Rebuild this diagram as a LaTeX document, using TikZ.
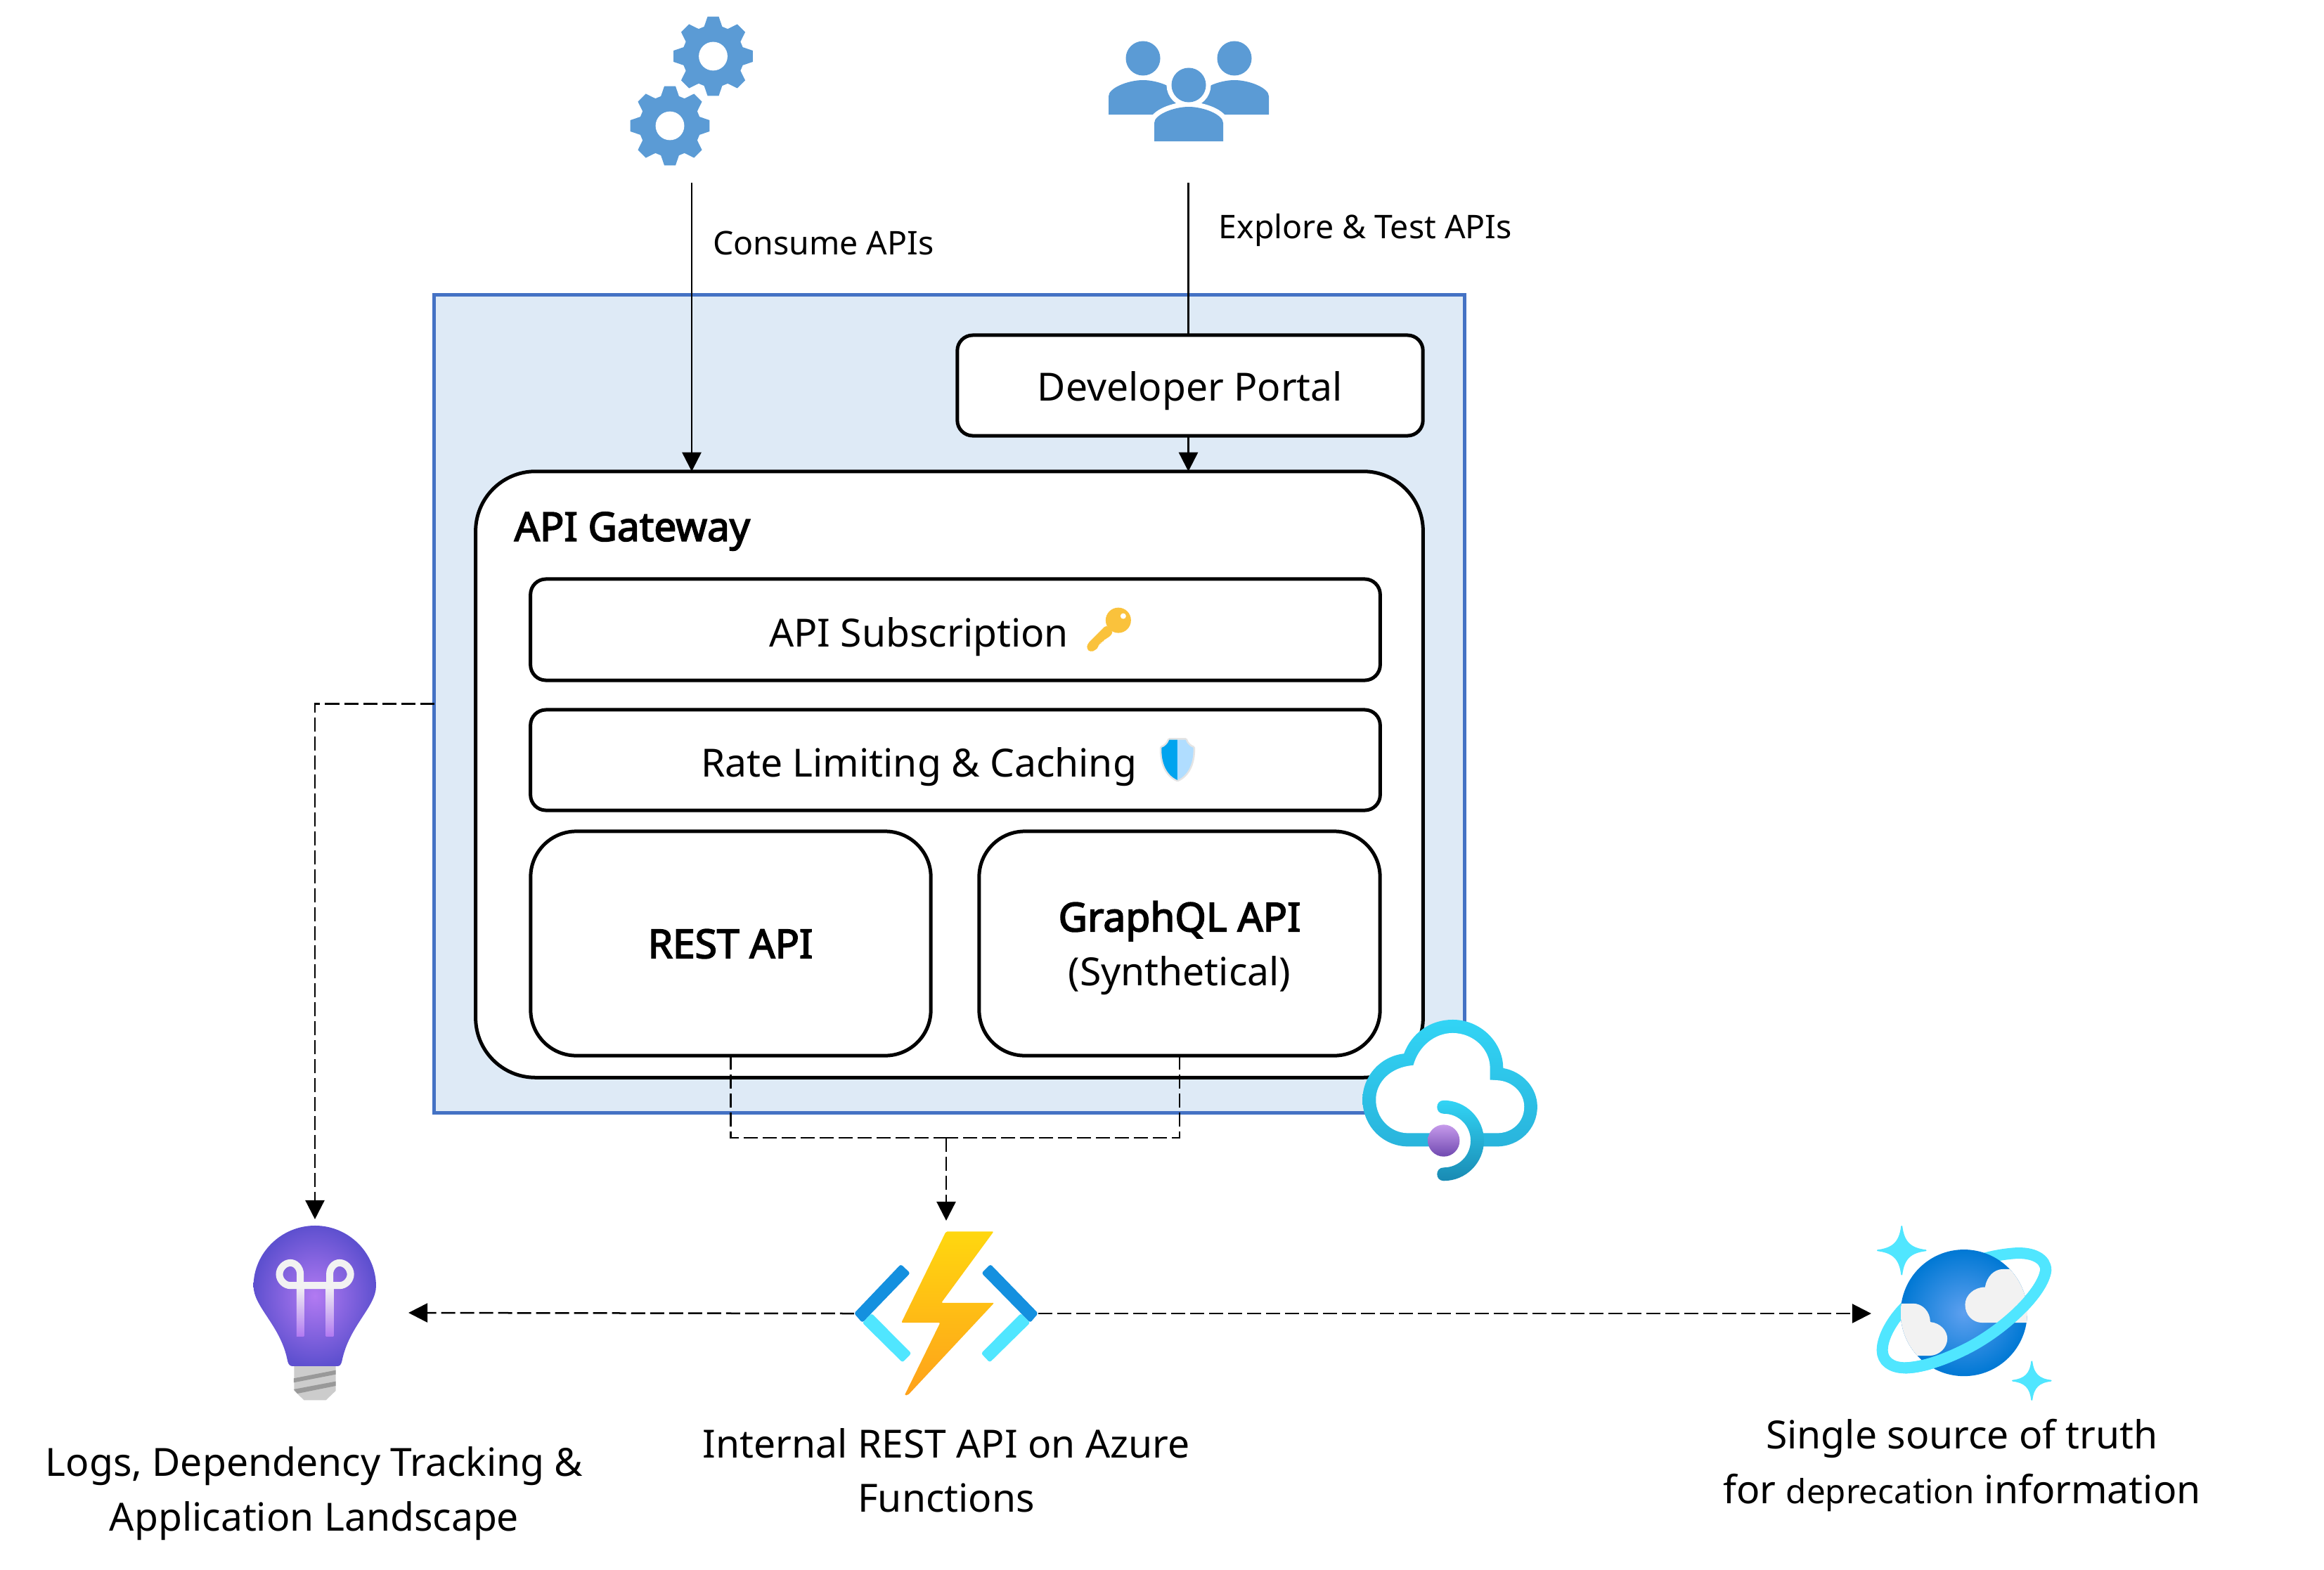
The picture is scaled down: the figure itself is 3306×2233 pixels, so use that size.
\documentclass[tikz,border=0pt]{standalone}
\usepackage{fontspec}
\setmainfont{Noto Sans}[BoldFont={Noto Sans},BoldFeatures={FakeBold=3,Scale=1.03}]
\usetikzlibrary{arrows.meta}
\definecolor{groupfill}{HTML}{DEEAF6}
\definecolor{groupline}{HTML}{4472C4}
\definecolor{iconblue}{HTML}{5B9BD5}
\definecolor{keygold}{HTML}{FAC23C}
\definecolor{cyanlight}{HTML}{50E6FF}
\definecolor{cyantop}{HTML}{32D4F5}
\definecolor{cyanmid}{HTML}{29B4DC}
\definecolor{cyanlow}{HTML}{198AB3}
\definecolor{chevrondark}{HTML}{1490DF}
\definecolor{shielddark}{HTML}{00A4EF}
\definecolor{shieldlight}{HTML}{B0DDFF}
\definecolor{shieldedge}{HTML}{E4E4E4}
\definecolor{dottop}{HTML}{C69AEB}
\definecolor{dotlow}{HTML}{7049B0}
\definecolor{bulbin}{HTML}{B27AF2}
\definecolor{bulbout}{HTML}{5E50CF}
\definecolor{filament}{HTML}{F2F2F2}
\definecolor{bolttop}{HTML}{FFD70F}
\definecolor{boltmid}{HTML}{FEB01C}
\definecolor{boltlow}{HTML}{FEA11B}
\definecolor{globein}{HTML}{5EA0EF}
\definecolor{globeout}{HTML}{0078D4}
\tikzset{
  >={Triangle[length=0.27cm,width=0.27cm]},
  zoomed/.style={x=0.003333cm,y=-0.003333cm},
  groupbox/.style={draw=groupline,fill=groupfill,line width=0.05cm,inner sep=0,outer sep=0},
  whitebox/.style={draw=black,fill=white,line width=0.05cm,rounded corners=#1,inner sep=0,outer sep=0},
  iconbox/.style={inner sep=0,outer sep=0},
  txt/.style={font=\fontsize{15.7}{22}\selectfont,align=center,inner sep=0},
  smalltxt/.style={font=\fontsize{13.2}{16}\selectfont,inner sep=0},
  wire/.style={line width=0.025cm},
  flow/.style={line width=0.025cm,dash pattern=on 0.2cm off 0.07cm},
}
\newcommand{\gearicon}[2]{
  \begin{scope}[shift={(#1,#2)}]
    \fill[iconblue] (-17:44) \foreach \a in {0,45,...,315} { -- (\a-17:44) -- (\a-8:57) -- (\a+8:57) -- (\a+17:44) } -- cycle;
    \fill[white] (0,0) circle [radius=0.204cm];
  \end{scope}
}
\newcommand{\personicon}[3]{
  \begin{scope}[shift={(#1,#2)}]
    \draw[white,line width=#3] (0,-31) circle [radius=0.245cm];
    \draw[white,line width=#3] (-49,49) -- (-49,23) .. controls (-49,11) and (-21,0) .. (0,0) .. controls (21,0) and (49,11) .. (49,23) -- (49,49) -- cycle;
    \fill[iconblue] (0,-31) circle [radius=0.245cm];
    \fill[iconblue] (-49,49) -- (-49,23) .. controls (-49,11) and (-21,0) .. (0,0) .. controls (21,0) and (49,11) .. (49,23) -- (49,49) -- cycle;
  \end{scope}
}
\newcommand{\sparkle}[3]{
  \begin{scope}[shift={(#1,#2)},scale=#3]
    \filldraw[fill=cyanlight,draw=cyanlight,line width=0.02cm,line join=round] (0,-100) .. controls (8,-35) and (35,-8) .. (100,0) .. controls (35,8) and (8,35) .. (0,100) .. controls (-8,35) and (-35,8) .. (-100,0) .. controls (-35,-8) and (-8,-35) .. (0,-100) -- cycle;
  \end{scope}
}
\begin{document}
\begin{tikzpicture}[x=0.01cm,y=-0.01cm]
\useasboundingbox (0,0) rectangle (3306,2233);

\node (apim) at (1350.5,1001.5) [groupbox, minimum width=14.65cm, minimum height=11.63cm] {};
\node (portal) at (1693,548.5) [whitebox=0.22cm, minimum width=6.62cm, minimum height=1.43cm] {};
\node (gateway) at (1350.5,1102) [whitebox=0.85cm, minimum width=13.47cm, minimum height=8.62cm] {};
\node (subscription) at (1359,896) [whitebox=0.22cm, minimum width=12.08cm, minimum height=1.44cm] {};
\node (ratelimit) at (1359,1081.5) [whitebox=0.22cm, minimum width=12.08cm, minimum height=1.43cm] {};
\node (rest) at (1039.5,1342.5) [whitebox=0.65cm, minimum width=5.69cm, minimum height=3.19cm] {};
\node (graphql) at (1678,1342.5) [whitebox=0.65cm, minimum width=5.70cm, minimum height=3.19cm] {};

\node (portaltext) at (1693,556) [txt] {Developer Portal};
\node (gatewaytext) at (731,756) [txt, anchor=west] {\bfseries API Gateway};
\node (subtext) at (1307,906) [txt] {API Subscription};
\node (ratetext) at (1307,1091) [txt] {Rate Limiting \& Caching};
\node (resttext) at (1039,1343) [txt] {\bfseries REST API};
\node (graphqltext) at (1678,1349) [txt] {\textbf{GraphQL API}\\(Synthetical)};

\node (insights) at (448,1868) [iconbox, minimum width=2.66cm, minimum height=2.66cm] {};
\node (funcs) at (1346,1869) [iconbox, minimum width=2.62cm, minimum height=2.64cm] {};
\node (cosmos) at (2794,1869) [iconbox, minimum width=2.64cm, minimum height=2.64cm] {};

\node (insightstext) at (447,2125) [txt] {Logs, Dependency Tracking \&\\Application Landscape};
\node (funcstext) at (1346,2092) [txt] {Internal REST API on Azure\\Functions};
\node (cosmostext) at (2791,2085) [txt] {Single source of truth\\for {\fontsize{13.5}{22}\selectfont deprecation} information};

\coordinate (consumestart) at (984,260);
\coordinate (explorestart) at (1690.5,260);
\coordinate (merge) at (1346,1619);

\draw [wire,->] (consumestart) -- (consumestart |- gateway.north) node[pos=0.21, xshift=0.29cm, right, smalltxt] {Consume APIs};
\draw [wire] (explorestart) -- (explorestart |- portal.north) node[pos=0.31, xshift=0.42cm, right, smalltxt] {Explore \& Test APIs};
\draw [wire,->] (explorestart |- portal.south) -- (explorestart |- gateway.north);
\draw [flow,->] (apim.west) -| (insights.north);
\draw [flow] (rest.south) |- (merge);
\draw [flow] (graphql.south) |- (merge);
\draw [flow,->] (merge) -- (funcs.north);
\draw [flow,->] (funcs.west) -- (insights.east);
\draw [flow,->] (funcs.east) -- (cosmos.west);

\gearicon{1014.5}{80}
\gearicon{953}{179}
\personicon{1626}{114}{0pt}
\personicon{1756}{114}{0pt}
\personicon{1691}{152}{0.14cm}

\begin{scope}[shift={(1500,850)},zoomed]
\fill[keygold] (273,98) circle [radius=0.18cm];
\fill[keygold,rounded corners=0.04cm] (222,118) -- (140,200) -- (138,222) -- (155,234) -- (175,226) -- (190,210) -- (190,195) -- (205,195) -- (212,178) -- (228,175) -- (252,150) -- cycle;
\fill[white] (294,80) circle [radius=0.04cm];
\end{scope}

\begin{scope}[shift={(1640,1040)},zoomed]
\draw[shieldedge,line width=0.05cm,line join=round] (70,38) .. controls (65,55) and (50,68) .. (37,72) .. controls (35,140) and (60,190) .. (105,210) .. controls (150,190) and (175,140) .. (173,72) .. controls (160,68) and (145,55) .. (140,38) -- cycle;
\fill[shielddark] (105,38) -- (70,38) .. controls (65,55) and (50,68) .. (37,72) .. controls (35,140) and (60,190) .. (105,210) -- cycle;
\fill[shieldlight] (105,38) -- (140,38) .. controls (145,55) and (160,68) .. (173,72) .. controls (175,140) and (150,190) .. (105,210) -- cycle;
\end{scope}

\begin{scope}[shift={(1900,1420)},zoomed]
\shade[top color=cyantop,middle color=cyantop,bottom color=cyanmid] (292,238) .. controls (325,150) and (405,93) .. (500,93) .. controls (620,93) and (716,190) .. (716,300) .. controls (800,315) and (862,385) .. (862,465) .. controls (862,560) and (785,635) .. (690,635) -- (310,635) .. controls (200,635) and (115,545) .. (115,435) .. controls (115,335) and (190,250) .. (292,238) -- cycle;
\fill[white] (332,288) .. controls (355,205) and (425,150) .. (500,150) .. controls (590,150) and (660,220) .. (660,300) -- (660,350) -- (690,352) .. controls (755,355) and (806,405) .. (806,465) .. controls (806,530) and (755,578) .. (690,578) -- (310,578) .. controls (235,578) and (172,515) .. (172,435) .. controls (172,360) and (235,295) .. (332,288) -- cycle;
\fill[white] (462,570) rectangle (580,640);
\shade[top color=cyantop,bottom color=cyanlow] (462,438) .. controls (557,438) and (634,515) .. (634,610) .. controls (634,705) and (557,782) .. (462,782) .. controls (424,782) and (424,725) .. (462,725) .. controls (526,725) and (577,674) .. (577,610) .. controls (577,546) and (526,495) .. (462,495) .. controls (424,495) and (424,438) .. (462,438) -- cycle;
\shade[top color=dottop,bottom color=dotlow] (462,610) circle [radius=0.2267cm];
\end{scope}

\begin{scope}[shift={(300,1720)},zoomed]
\fill[black!20] (356,665) -- (534,665) -- (534,778) -- (492,818) -- (398,818) -- (356,778) -- cycle;
\fill[black!40] (354,725) -- (534,690) -- (534,708) -- (354,743) -- cycle;
\fill[black!40] (354,772) -- (534,738) -- (534,757) -- (370,790) -- cycle;
\shade[inner color=bulbin,outer color=bulbout] (445,72) .. controls (300,72) and (182,190) .. (182,330) .. controls (182,420) and (300,500) .. (328,652) .. controls (332,668) and (340,673) .. (350,673) -- (540,673) .. controls (550,673) and (556,668) .. (560,652) .. controls (590,500) and (706,420) .. (706,330) .. controls (706,190) and (590,72) .. (445,72) -- cycle;
\shade[top color=filament,bottom color=bulbin] (366,330) rectangle (398,545);
\shade[top color=filament,bottom color=bulbin] (492,330) rectangle (524,545);
\draw[filament,line width=0.1cm] (382,335) -- (382,280) .. controls (382,250) and (360,231) .. (340,231) .. controls (315,231) and (293,255) .. (293,280) .. controls (293,305) and (315,328) .. (340,328) -- (550,328) .. controls (575,328) and (597,305) .. (597,280) .. controls (597,255) and (575,231) .. (550,231) .. controls (530,231) and (508,250) .. (508,280) -- (508,335);
\end{scope}

\begin{scope}[shift={(1180,1720)},zoomed]
\fill[cyanlight,rounded corners=0.03cm] (140,487) -- (180,447) -- (350,618) -- (312,657) -- cycle;
\fill[chevrondark,rounded corners=0.03cm] (305,237) -- (345,275) -- (140,487) -- (105,447) -- cycle;
\fill[cyanlight,rounded corners=0.03cm] (858,487) -- (818,447) -- (648,618) -- (685,657) -- cycle;
\fill[chevrondark,rounded corners=0.03cm] (688,237) -- (650,275) -- (858,487) -- (892,447) -- cycle;
\shade[top color=bolttop,middle color=boltmid,bottom color=boltlow,rounded corners=0.02cm] (498,97) -- (702,97) -- (478,402) -- (704,402) -- (335,797) -- (321,797) -- (473,487) -- (307,487) -- cycle;
\end{scope}

\begin{scope}[shift={(2650,1720)},zoomed]
\sparkle{166}{178}{1.03}
\sparkle{722}{735}{0.82}
\draw[cyanlight,line width=0.16cm] (782,262) .. controls (770,360) and (600,520) .. (440,600) .. controls (330,655) and (240,680) .. (180,680) .. controls (120,680) and (83,650) .. (83,605) .. controls (83,545) and (130,470) .. (180,420) .. controls (300,300) and (450,205) .. (650,190) .. controls (730,185) and (782,215) .. (782,262) -- cycle;
\shade[inner color=globein,outer color=globeout] (432,445) circle [radius=0.9cm];
\begin{scope}
\clip (432,445) circle [radius=0.9cm];
\fill[filament] (522,335) .. controls (530,290) and (560,258) .. (600,258) -- (710,258) -- (710,487) -- (510,487) .. controls (470,487) and (437,455) .. (437,410) .. controls (437,370) and (475,335) .. (522,335) -- cycle;
\fill[filament] (150,405) -- (215,405) .. controls (255,405) and (288,440) .. (288,484) .. controls (330,488) and (361,520) .. (361,555) .. controls (361,595) and (325,628) .. (285,628) -- (150,628) -- cycle;
\end{scope}
\draw[cyanlight,line width=0.16cm] (782,262) .. controls (770,360) and (600,520) .. (440,600) .. controls (330,655) and (240,680) .. (180,680);
\end{scope}
\end{tikzpicture}
\end{document}
